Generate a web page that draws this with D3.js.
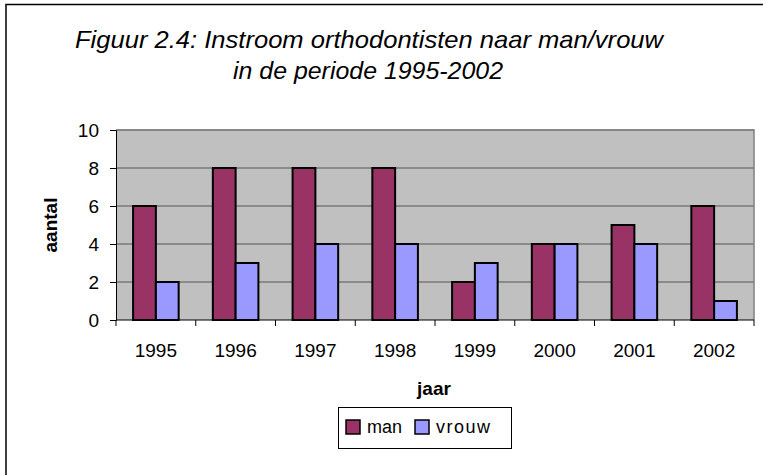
<!DOCTYPE html>
<html>
<head>
<meta charset="utf-8">
<script src="https://cdn.jsdelivr.net/npm/d3@7"></script>
<style>
  body { margin: 0; background: #fff; }
  text { font-family: 'Liberation Sans', Arial, sans-serif; }
</style>
</head>
<body>
<div id="chart"></div>
<script>
'use strict';

// data
const years = ['1995', '1996', '1997', '1998', '1999', '2000', '2001', '2002']
const man = [6, 8, 8, 8, 2, 4, 5, 6]
const vrouw = [2, 3, 4, 4, 3, 4, 4, 1]
const series_names = ['man', 'vrouw']
const y_ticks = [0, 2, 4, 6, 8, 10]

const colors = { man: '#993366', vrouw: '#9999ff' }

const width = 763
const height = 475
const plot = { left: 116, right: 754, top: 130, bottom: 320 }
const font_family = "'Liberation Sans', Arial, sans-serif"

const svg_el = d3.select('#chart').append('svg')
  .attr('width', width)
  .attr('height', height)

// outer chart border (right and bottom lie outside the picture)
svg_el.append('rect')
  .attr('x', 6).attr('y', 4.5)
  .attr('width', 800).attr('height', 500)
  .attr('fill', 'none')
  .attr('stroke', '#000')
  .attr('stroke-width', 1.5)

// title
const title_g = svg_el.append('g')
  .style('font-style', 'italic')
  .style('font-size', '24px')
title_g.append('text')
  .attr('x', 75).attr('y', 48)
  .attr('textLength', 588)
  .attr('lengthAdjust', 'spacingAndGlyphs')
  .text('Figuur 2.4: Instroom orthodontisten naar man/vrouw')
title_g.append('text')
  .attr('x', 233).attr('y', 79)
  .attr('textLength', 270)
  .attr('lengthAdjust', 'spacingAndGlyphs')
  .text('in de periode 1995-2002')

// scales
const xScale = d3.scaleBand()
  .domain(years)
  .range([plot.left, plot.right])

const yScale = d3.scaleLinear()
  .domain([0, 10])
  .range([plot.bottom, plot.top])

// plot area background
svg_el.append('rect')
  .attr('x', plot.left).attr('y', plot.top)
  .attr('width', plot.right - plot.left)
  .attr('height', plot.bottom - plot.top)
  .attr('fill', '#c0c0c0')

// gridlines
svg_el.append('g')
  .selectAll('line')
  .data(y_ticks.filter(d => d > 0))
  .join('line')
  .attr('x1', plot.left).attr('x2', plot.right)
  .attr('y1', d => yScale(d)).attr('y2', d => yScale(d))
  .attr('stroke', '#555')
  .attr('stroke-width', 1)

// plot border (top and right side)
svg_el.append('path')
  .attr('d', `M${plot.left},${plot.top}H${plot.right}V${plot.bottom}`)
  .attr('fill', 'none')
  .attr('stroke', '#808080')
  .attr('stroke-width', 1.5)

// bars
const cw = xScale.bandwidth()
const bar_w = cw / 3.5
const bar_off = cw * 0.75 / 3.5
const bar_data = []
years.forEach(function(yr, i){
  bar_data.push({ year: yr, group: 'man', value: man[i], k: 0 })
  bar_data.push({ year: yr, group: 'vrouw', value: vrouw[i], k: 1 })
})

svg_el.append('g')
  .selectAll('rect')
  .data(bar_data)
  .join('rect')
  .attr('x', d => xScale(d.year) + bar_off + d.k * bar_w)
  .attr('y', d => yScale(d.value))
  .attr('width', bar_w)
  .attr('height', d => yScale(0) - yScale(d.value))
  .attr('fill', d => colors[d.group])
  .attr('stroke', '#000')
  .attr('stroke-width', 2)

// Y axis
const yAxis = d3.axisLeft(yScale)
  .tickValues(y_ticks)
  .tickSize(6)
  .tickPadding(11)
const yAxisGroup = svg_el.append('g')
  .attr('transform', `translate(${plot.left},0)`)
  .call(yAxis)
yAxisGroup.select('.domain').attr('stroke', '#000')
yAxisGroup.selectAll('text')
  .attr('fill', '#000')
  .style('font-size', '19px')
  .style('font-family', font_family)

// X axis with ticks at category boundaries
const x_bounds = years.map(d => xScale(d)).concat([plot.right])
const xAxisGroup = svg_el.append('g')
xAxisGroup.append('line')
  .attr('x1', plot.left).attr('x2', plot.right)
  .attr('y1', plot.bottom).attr('y2', plot.bottom)
  .attr('stroke', '#000')
xAxisGroup.selectAll('.xtick')
  .data(x_bounds)
  .join('line')
  .attr('class', 'xtick')
  .attr('x1', d => d).attr('x2', d => d)
  .attr('y1', plot.bottom).attr('y2', plot.bottom + 6)
  .attr('stroke', '#000')
xAxisGroup.selectAll('.xlabel')
  .data(years)
  .join('text')
  .attr('class', 'xlabel')
  .attr('x', d => xScale(d) + cw / 2)
  .attr('y', 357)
  .attr('text-anchor', 'middle')
  .style('font-size', '19px')
  .text(d => d)

// axis titles
svg_el.append('text')
  .attr('x', 434).attr('y', 395)
  .attr('text-anchor', 'middle')
  .style('font-weight', 'bold')
  .style('font-size', '19px')
  .text('jaar')

svg_el.append('text')
  .attr('transform', 'translate(57,225) rotate(-90)')
  .attr('text-anchor', 'middle')
  .style('font-weight', 'bold')
  .style('font-size', '19px')
  .text('aantal')

// legend
const legend_g = svg_el.append('g')
legend_g.append('rect')
  .attr('x', 338.5).attr('y', 407.5)
  .attr('width', 173).attr('height', 41)
  .attr('fill', '#fff')
  .attr('stroke', '#000')

const legend_x = [346, 415]
const legendItem = legend_g.selectAll('g')
  .data(series_names)
  .join('g')
  .attr('transform', (d, i) => `translate(${legend_x[i]},420)`)
legendItem.append('rect')
  .attr('width', 14).attr('height', 14)
  .attr('fill', d => colors[d])
  .attr('stroke', '#000')
  .attr('stroke-width', 1.5)
legendItem.append('text')
  .attr('x', 21)
  .attr('y', 13)
  .style('font-size', '18px')
  .style('letter-spacing', (d) => d === 'vrouw' ? '1.5px' : '0px')
  .text(d => d)
</script>
</body>
</html>
